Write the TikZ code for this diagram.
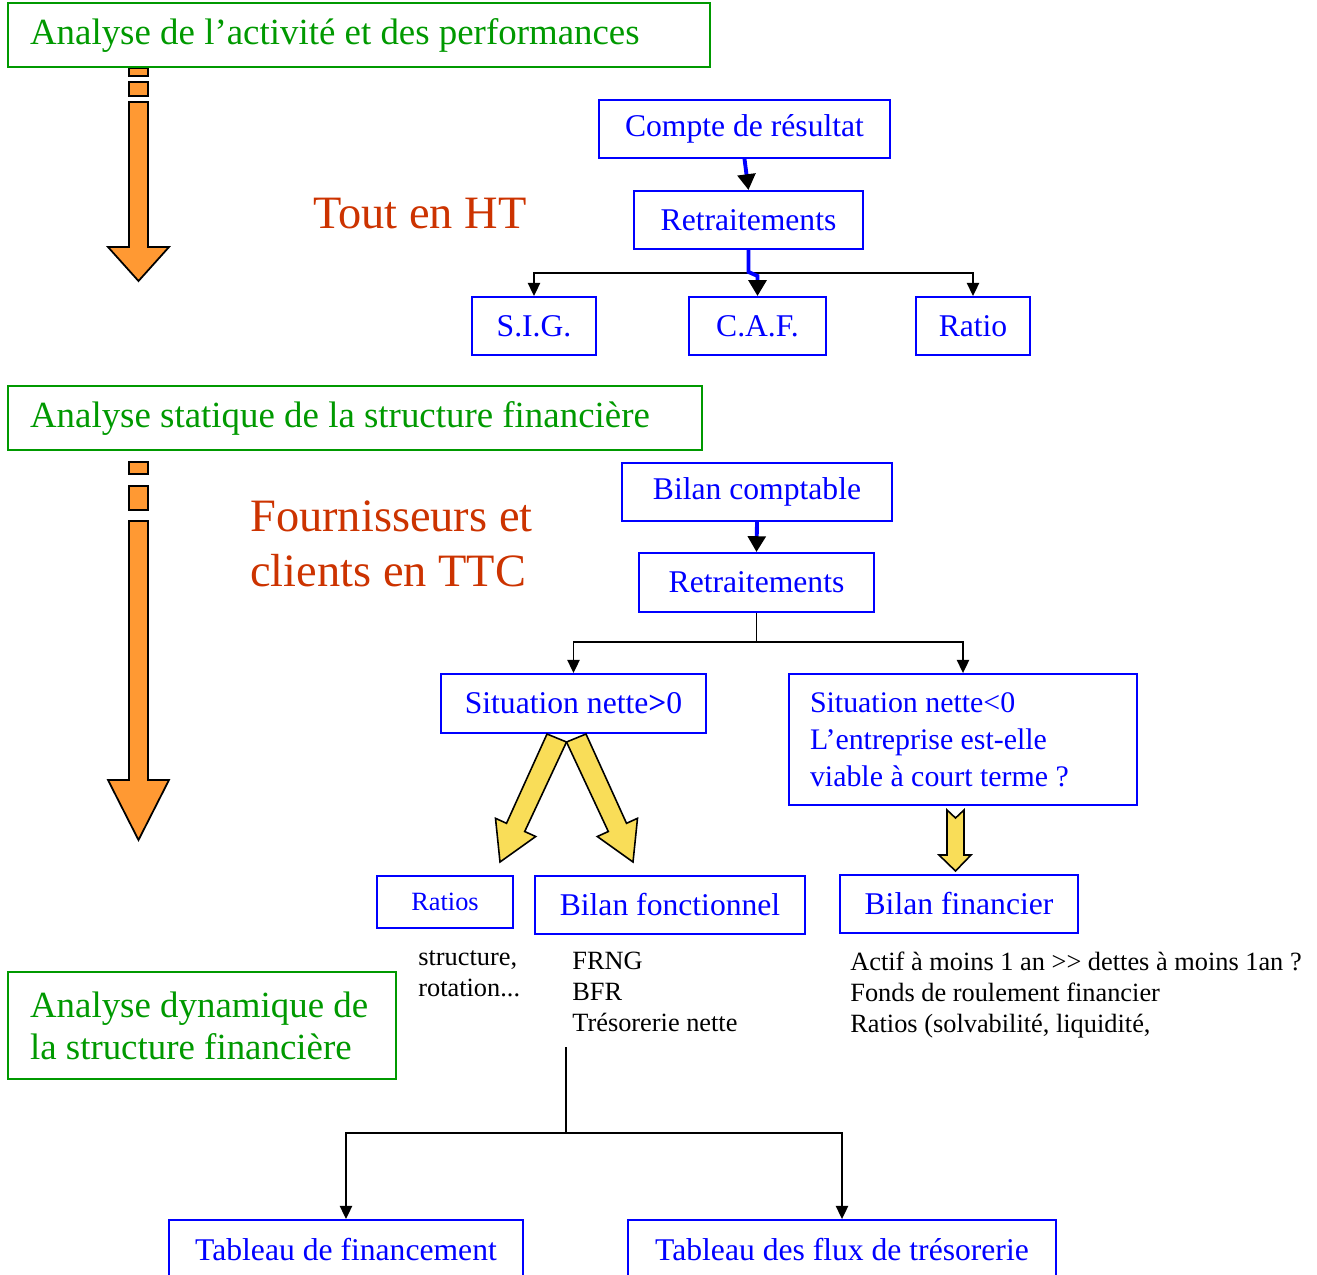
\documentclass[tikz,border=0pt]{standalone}
\usepackage{fontspec}
\setmainfont{Liberation Serif}
\usetikzlibrary{arrows.meta}
\definecolor{vertcadre}{RGB}{0,153,0}
\definecolor{rougetxt}{RGB}{204,51,0}
\definecolor{orangefl}{RGB}{255,153,51}
\definecolor{jaunefl}{RGB}{249,221,88}
\tikzset{
  cadrevert/.style={draw=vertcadre, text=vertcadre, line width=1.1pt, align=flush left,
    inner xsep=0.44cm, inner ysep=0pt, font=\fontsize{21}{24}\selectfont},
  boite/.style={draw=blue, text=blue, line width=1.1pt, inner sep=0pt,
    font=\fontsize{18}{21}\selectfont},
  rouge/.style={text=rougetxt, inner sep=0pt, font=\fontsize{26.4}{31}\selectfont},
  noir/.style={anchor=west, align=flush left, inner sep=0pt, font=\fontsize{15}{17.6}\selectfont},
  trait/.style={line width=0.9pt},
  fleche/.style={trait, -{Triangle[width=7pt,length=7.5pt]}},
  flechebleue/.style={draw=blue, line width=2.2pt, -{Triangle[color=black,width=10pt,length=9pt]}},
  flecheorange/.style={fill=orangefl, draw=black, line width=1pt, line join=miter},
  flechejaune/.style={fill=jaunefl, draw=black, line width=0.9pt, line join=miter}
}
\begin{document}
\begin{tikzpicture}[x=0.02cm, y=-0.02cm]
\useasboundingbox (0,0) rectangle (1317,1274);
\clip (0,0) rectangle (1317,1274);
% fleches orange a gauche
\foreach \ya/\yb/\yc/\yd/\ye/\yf/\yg in {68/76/82/96/102/247/281, 462/474/486/510/521/780/840} {
  \filldraw[flecheorange] (129,\ya) rectangle (148,\yb);
  \filldraw[flecheorange] (129,\yc) rectangle (148,\yd);
  \filldraw[flecheorange] (129,\ye) -- (129,\yf) -- (108,\yf) -- (138.5,\yg) -- (169,\yf) -- (148,\yf) -- (148,\ye) -- cycle;
}
% titres verts
\node[cadrevert, text width=13.16cm, minimum height=1.28cm] (anaact) at (359,35) {Analyse de l’activité et des performances};
\node[cadrevert, text width=13cm, minimum height=1.28cm] (anastat) at (355,418) {Analyse statique de la structure financière};
\node[cadrevert, text width=6.88cm, minimum height=2.14cm] (anadyn) at (202,1025.5) {\mbox{Analyse dynamique de}\\\mbox{la structure financière}};
% textes rouges
\node[rouge] (toutht) at (420,214) {Tout en HT};
\node[rouge, anchor=west, align=flush left] (ttc) at (250,544) {Fournisseurs et\\clients en TTC};
% partie haute
\node[boite, minimum width=5.82cm, minimum height=1.16cm] (compte) at (744.5,129) {Compte de résultat};
\node[boite, minimum width=4.58cm, minimum height=1.16cm] (retr1) at (748.5,220) {Retraitements};
\node[boite, minimum width=2.48cm, minimum height=1.16cm] (sig) at (534,326) {S.I.G.};
\node[boite, minimum width=2.74cm, minimum height=1.16cm] (caf) at (757.5,326) {C.A.F.};
\node[boite, minimum width=2.28cm, minimum height=1.16cm] (ratio) at (973,326) {Ratio};
\coordinate (fourche1) at (748.5,273);
\draw[fleche] (fourche1) -| (sig.north);
\draw[fleche] (fourche1) -| (ratio.north);
\draw[flechebleue] (compte.south) -- (retr1.north);
\draw[flechebleue] (retr1.south) -- ++(0,22) -- ++(9,4) -- (caf.north);
% partie statique
\node[boite, minimum width=5.4cm, minimum height=1.16cm] (bilcpt) at (757,492) {Bilan comptable};
\node[boite, minimum width=4.7cm, minimum height=1.18cm] (retr2) at (756.5,582.5) {Retraitements};
\node[boite, minimum width=5.3cm, minimum height=1.18cm] (sitpos) at (573.5,703.5) {Situation nette\textbf{>}0};
\node[boite, text width=6.12cm, inner xsep=0.42cm, minimum height=2.62cm, align=flush left,
  font=\fontsize{17}{21}\selectfont] (sitneg) at (963,739.5) {Situation nette<0\\L’entreprise est-elle\\viable à court terme ?};
\draw[flechebleue] (bilcpt.south) -- (retr2.north);
\coordinate (fourche2) at (756.5,642);
\draw[trait] (retr2.south) -- (fourche2);
\draw[fleche] (fourche2) -| (sitpos.north);
\draw[fleche] (fourche2) -| (sitneg.north);
% fleches jaunes
\filldraw[flechejaune] (547,734) -- (566.5,742) -- (524.7,831.5) -- (535.7,836.5) -- (500,862) -- (495.5,818.3) -- (506.5,823.3) -- cycle;
\filldraw[flechejaune] (586,734) -- (566.5,742) -- (608.3,831.5) -- (597.3,836.5) -- (633,862) -- (637.5,818.3) -- (626.5,823.3) -- cycle;
\filldraw[flechejaune] (947,810) -- (955.5,818) -- (964,810) -- (964,855) -- (971,855) -- (955.5,871) -- (939,855) -- (947,855) -- cycle;
\node[boite, minimum width=2.72cm, minimum height=1.04cm, font=\fontsize{15}{18}\selectfont] (ratios) at (445,902) {Ratios};
\node[boite, minimum width=5.4cm, minimum height=1.16cm] (bilfonc) at (670,905) {Bilan fonctionnel};
\node[boite, minimum width=4.76cm, minimum height=1.16cm] (bilfin) at (959,904) {Bilan financier};
\node[noir] (txtratios) at (418,974) {structure,\\rotation...};
\node[noir] (txtfonc) at (572,992) {FRNG\\BFR\\Trésorerie nette};
\node[noir] (txtfin) at (850,995) {Actif à moins 1 an >{}> dettes à moins 1an ?\\Fonds de roulement financier\\Ratios (solvabilité, liquidité,};
% partie dynamique
\node[boite, minimum width=7.08cm, minimum height=1.16cm] (tabfin) at (346,1249) {Tableau de financement};
\node[boite, minimum width=8.56cm, minimum height=1.16cm] (tabflux) at (842,1249) {Tableau des flux de trésorerie};
\coordinate (depart) at (566,1047);
\coordinate (fourche3) at (566,1133);
\draw[trait] (depart) -- (fourche3);
\draw[fleche] (fourche3) -| (tabfin.north);
\draw[fleche] (fourche3) -| (tabflux.north);
\end{tikzpicture}
\end{document}
